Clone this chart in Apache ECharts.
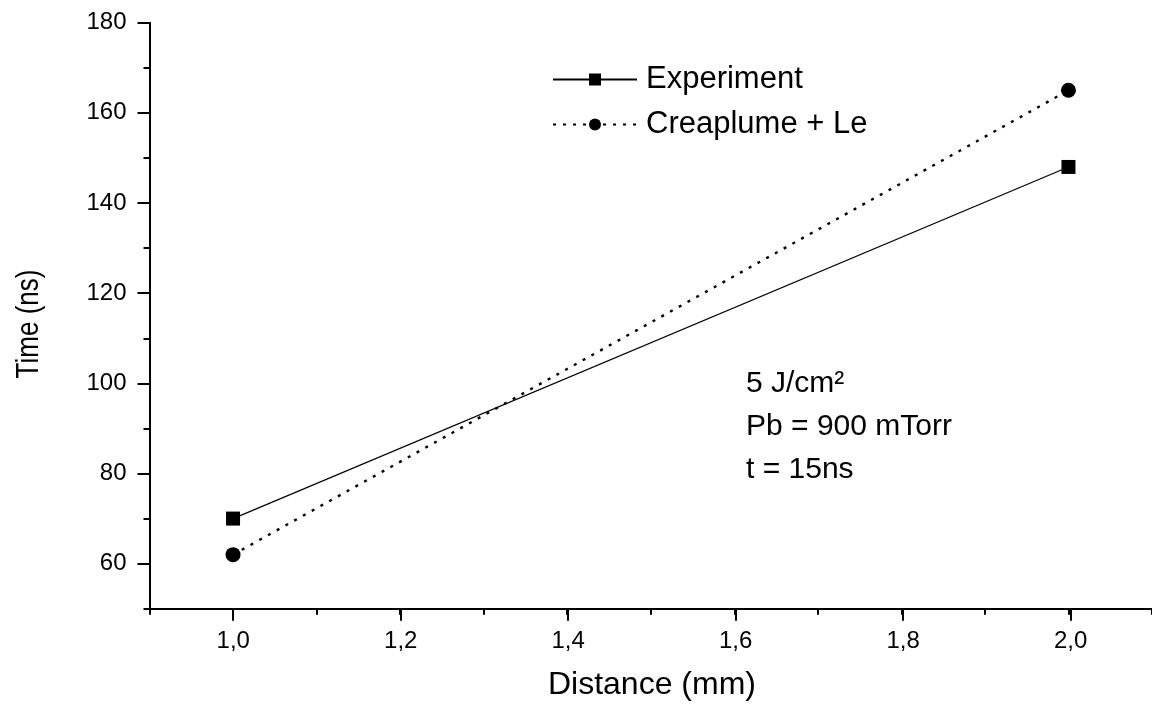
<!DOCTYPE html>
<html>
<head>
<meta charset="utf-8">
<script src="https://cdn.jsdelivr.net/npm/echarts@6/dist/echarts.min.js"></script>
<style>
html,body{margin:0;padding:0;background:#fff;}
#chart{width:1152px;height:709px;}
</style>
</head>
<body>
<div id="chart"></div>
<script>
// ---- data ----
var distances = [1.0, 2.0];
var experimentTimes = [70, 148];
var creaplumeTimes = [62, 165];
var seriesNames = ['Experiment', 'Creaplume + Le'];
var annotationLines = ['5 J/cm\u00b2', 'Pb = 900 mTorr', 't = 15ns'];
var xTitle = 'Distance (mm)';
var yTitle = 'Time (ns)';

var FONT = '"Liberation Sans", Arial, Helvetica, sans-serif';

function pairs(xs, ys) {
  return xs.map(function (x, i) { return [x, ys[i]]; });
}

var chart = echarts.init(document.getElementById('chart'), null, {renderer: 'canvas'});

var G_LEFT = 149.5, G_TOP = 22.7, PX_X = 837.4, PX_Y = 4.508;

var option = {
  backgroundColor: '#ffffff',
  animation: false,
  textStyle: {fontFamily: FONT, color: '#000'},
  grid: [
    {left: G_LEFT, top: G_TOP, width: PX_X * 1.2, height: PX_Y * 130, containLabel: false},
    {left: G_LEFT + PX_X * 0.1, top: G_TOP, width: PX_X * 1.0, height: PX_Y * 130, containLabel: false},
    {left: G_LEFT, top: G_TOP, width: PX_X * 1.2, height: PX_Y * 120, containLabel: false}
  ],
  xAxis: [
    {
      gridIndex: 0, type: 'value', min: 0.9, max: 2.1, interval: 0.1,
      axisLine: {show: true, lineStyle: {color: '#000', width: 2}},
      axisTick: {show: true, length: 6, lineStyle: {color: '#000', width: 2}},
      axisLabel: {show: false},
      splitLine: {show: false}
    },
    {
      gridIndex: 1, type: 'value', min: 1.0, max: 2.0, interval: 0.2,
      axisLine: {show: false},
      axisTick: {show: true, length: 12, lineStyle: {color: '#000', width: 2}},
      axisLabel: {
        show: true, fontSize: 24, color: '#000', fontFamily: FONT, margin: 21,
        formatter: function (v) { return v.toFixed(1).replace('.', ','); }
      },
      splitLine: {show: false},
      name: xTitle, nameLocation: 'middle', nameGap: 60,
      nameTextStyle: {fontSize: 32, color: '#000', fontFamily: FONT}
    },
    {gridIndex: 2, type: 'value', min: 0.9, max: 2.1, show: false}
  ],
  yAxis: [
    {
      gridIndex: 0, type: 'value', min: 50, max: 180, interval: 10,
      axisLine: {show: true, lineStyle: {color: '#000', width: 2}},
      axisTick: {show: true, length: 6, lineStyle: {color: '#000', width: 2}},
      axisLabel: {show: false},
      splitLine: {show: false}
    },
    {gridIndex: 1, type: 'value', min: 50, max: 180, show: false},
    {
      gridIndex: 2, type: 'value', min: 60, max: 180, interval: 20,
      axisLine: {show: false},
      axisTick: {show: true, length: 12, lineStyle: {color: '#000', width: 2}},
      axisLabel: {show: true, fontSize: 24, color: '#000', fontFamily: FONT, margin: 23},
      splitLine: {show: false}
    }
  ],
  legend: {
    orient: 'vertical',
    left: 547,
    top: 59,
    itemWidth: 84,
    itemHeight: 15,
    itemGap: 14,
    selectedMode: false,
    textStyle: {fontSize: 31, color: '#000', fontFamily: FONT, padding: [0, 0, 0, 4]},
    data: seriesNames
  },
  series: [
    {
      name: seriesNames[0], type: 'line', xAxisIndex: 0, yAxisIndex: 0,
      data: pairs(distances, experimentTimes),
      symbol: 'rect', symbolSize: 14,
      itemStyle: {color: '#000'},
      lineStyle: {color: '#000', width: 1.2, type: 'solid'},
      z: 3
    },
    {
      name: seriesNames[1], type: 'line', xAxisIndex: 0, yAxisIndex: 0,
      data: pairs(distances, creaplumeTimes),
      symbol: 'circle', symbolSize: 15,
      itemStyle: {color: '#000'},
      lineStyle: {color: '#000', width: 2.4, type: [3, 7]},
      z: 3
    }
  ],
  graphic: [
    {
      type: 'text', x: 29, y: 324, rotation: Math.PI / 2, scaleX: 0.84,
      style: {text: yTitle, fontSize: 31, fontFamily: FONT, fill: '#000', align: 'center', verticalAlign: 'middle'}
    },
    {
      type: 'text', left: 746, top: 362,
      style: {text: annotationLines.join('\n'), fontSize: 30, lineHeight: 43, fontFamily: FONT, fill: '#000'}
    }
  ]
};

chart.setOption(option);
</script>
</body>
</html>
